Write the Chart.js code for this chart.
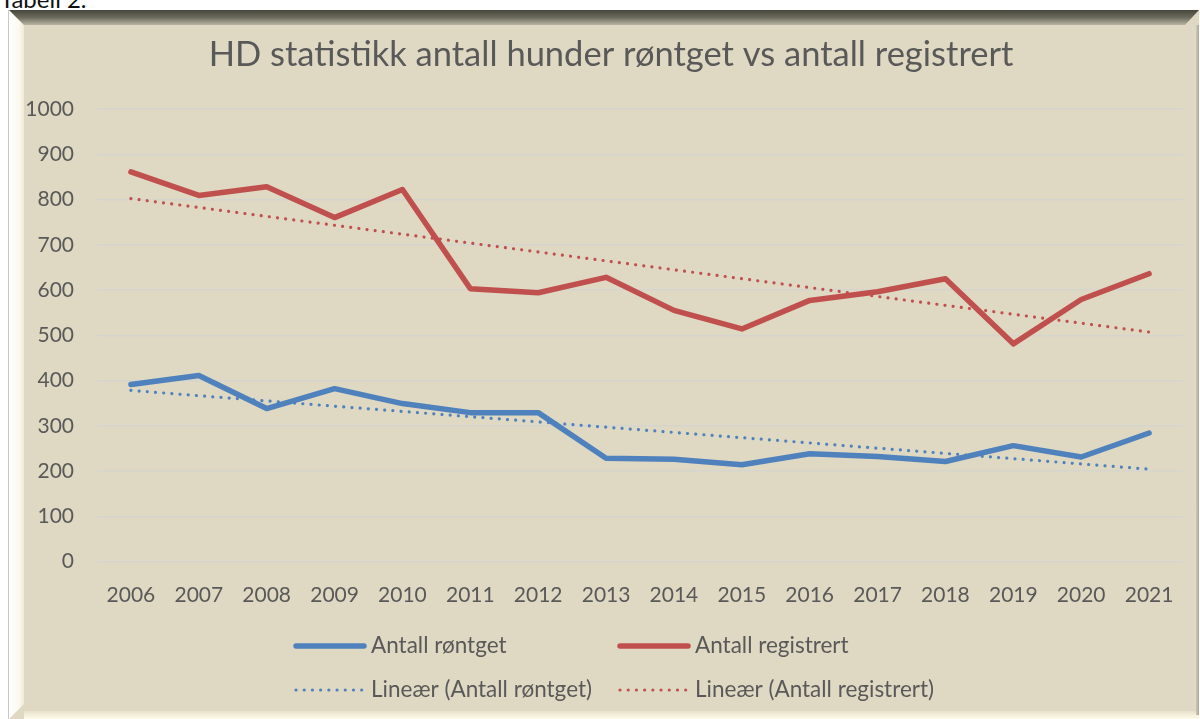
<!DOCTYPE html>
<html><head><meta charset="utf-8">
<script src="https://cdn.jsdelivr.net/npm/chart.js@4.4.1/dist/chart.umd.min.js"></script>
<style>
html,body{margin:0;padding:0;background:#fff;width:1200px;height:719px;overflow:hidden;position:relative}
#cap{position:absolute;left:0;top:-13px;font:24px/24px Lato,sans-serif;color:#111;white-space:nowrap}
#frame{position:absolute;left:8px;top:10px;width:1190px;height:709px;background:#DFD8C2;border-left:1px solid #c8c8c8}
#topband{position:absolute;left:0;top:0;width:1190px;height:15px;background:linear-gradient(#46463b,#6b6a5c 50%,#b9b5a3);clip-path:polygon(0 0,1190px 0,1176px 15px,15px 15px)}
#leftband{position:absolute;left:0;top:0;width:15px;height:709px;background:linear-gradient(90deg,#ffffff,#fbf8ee 70%,#efe9d6);clip-path:polygon(0 0,15px 15px,15px 694px,0 709px)}
#botband{position:absolute;left:15px;top:701px;width:1175px;height:8px;background:linear-gradient(#e8e2cc,#fffbea)}
#rightband{position:absolute;left:1187px;top:15px;width:3px;height:690px;background:linear-gradient(90deg,#cfc9b4,#aaa69a)}
canvas{position:absolute;left:0;top:0}
</style>
</head><body>
<div id="cap">Tabell 2.</div>
<div id="frame"><div id="leftband"></div><div id="topband"></div><div id="botband"></div><div id="rightband"></div></div>
<canvas id="c" width="1200" height="719"></canvas>
<script>
const years = ['2006','2007','2008','2009','2010','2011','2012','2013','2014','2015','2016','2017','2018','2019','2020','2021'];
const antallRontget = [391,411,338,382,349,329,329,228,226,214,238,232,221,256,231,284];
const antallRegistrert = [861,809,828,760,822,603,594,628,555,514,577,596,625,481,579,636];
const trendRontget = [378,null,null,null,null,null,null,null,null,null,null,null,null,null,null,204];
const trendRegistrert = [802,null,null,null,null,null,null,null,null,null,null,null,null,null,null,507];
const yMin = 0, yMax = 1000, yStep = 100;
const titleText = 'HD statistikk antall hunder røntget vs antall registrert';

const BLUE = '#4F81BD', RED = '#C0504D', TXT = '#595959';
const FONT = 'Lato, "Open Sans", sans-serif';

const titlePlugin = {
  id: 'customTitle',
  afterDraw(chart) {
    const ctx = chart.ctx;
    ctx.save();
    ctx.fillStyle = TXT;
    ctx.font = '34.5px ' + FONT;
    ctx.textAlign = 'center';
    ctx.textBaseline = 'middle';
    ctx.fillText(titleText, 611, 55);
    ctx.restore();
  }
};

const legendPlugin = {
  id: 'customLegend',
  afterDraw(chart) {
    const ctx = chart.ctx;
    const cols = [296, 620], rows = [646, 690];
    chart.data.datasets.forEach((ds, i) => {
      const x = cols[i % 2], y = rows[Math.floor(i / 2)];
      ctx.save();
      ctx.strokeStyle = ds.borderColor;
      ctx.lineWidth = ds.borderWidth;
      ctx.lineCap = 'round';
      ctx.setLineDash(ds.borderDash || []);
      ctx.beginPath(); ctx.moveTo(x, y); ctx.lineTo(x + 68, y); ctx.stroke();
      ctx.setLineDash([]);
      ctx.fillStyle = TXT;
      ctx.font = '22.5px ' + FONT;
      ctx.textBaseline = 'middle';
      ctx.fillText(ds.label, x + 75, y);
      ctx.restore();
    });
  }
};

new Chart(document.getElementById('c'), {
  type: 'line',
  data: {
    labels: years,
    datasets: [
      {label: 'Antall røntget', data: antallRontget, borderColor: BLUE, borderWidth: 5.5, pointRadius: 0, borderJoinStyle: 'round', borderCapStyle: 'round', tension: 0},
      {label: 'Antall registrert', data: antallRegistrert, borderColor: RED, borderWidth: 5.5, pointRadius: 0, borderJoinStyle: 'round', borderCapStyle: 'round', tension: 0},
      {label: 'Lineær (Antall røntget)', data: trendRontget, spanGaps: true, borderColor: BLUE, borderWidth: 3.2, borderDash: [0.01, 8.2], borderCapStyle: 'round', pointRadius: 0},
      {label: 'Lineær (Antall registrert)', data: trendRegistrert, spanGaps: true, borderColor: RED, borderWidth: 3.2, borderDash: [0.01, 8.2], borderCapStyle: 'round', pointRadius: 0}
    ]
  },
  options: {
    responsive: false,
    animation: false,
    layout: {padding: {left: 0, right: 17, top: 109, bottom: 107.5}},
    plugins: {
      legend: {display: false},
      tooltip: {enabled: false},
      title: {display: false}
    },
    scales: {
      x: {
        offset: true,
        grid: {display: false, drawTicks: false},
        border: {display: false},
        ticks: {color: TXT, font: {family: FONT, size: 21}, padding: 21, maxRotation: 0, autoSkip: false},
        afterFit(s) { s.height = 50; }
      },
      y: {
        min: yMin, max: yMax,
        grid: {color: '#D6D4CE', lineWidth: 1.5, drawTicks: false},
        border: {display: false},
        ticks: {stepSize: yStep, color: TXT, font: {family: FONT, size: 21}, padding: 23, callback: v => String(v)},
        afterFit(s) { s.width = 97; }
      }
    }
  },
  plugins: [titlePlugin, legendPlugin]
});
</script>
</body></html>
